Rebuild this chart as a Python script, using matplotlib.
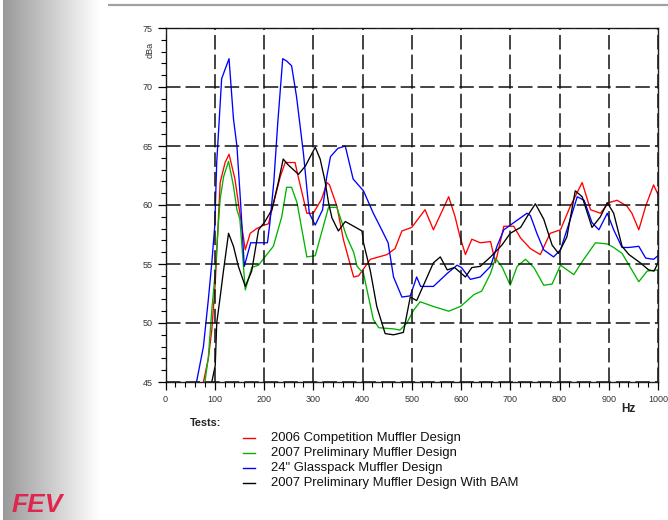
import numpy as np
import matplotlib
matplotlib.use("Agg")
import matplotlib.pyplot as plt
from matplotlib.ticker import MultipleLocator

# ---- data (Hz, dBA) ----
competition_hz = [77, 87, 94, 101, 107, 111, 121, 129, 141, 151, 162, 172, 185, 200, 209, 216, 233, 243, 263,
                  270, 287, 300, 317, 328, 333, 348, 361, 382, 392, 416, 450, 456, 466, 480, 500, 527, 544, 575,
                  588, 598, 609, 622, 639, 660, 670, 687, 707, 721, 741, 761, 781, 802, 822, 846, 863, 883,
                  900, 917, 937, 947, 961, 975, 991, 1000]
competition_db = [45, 47, 49.4, 53.4, 58.5, 61.9, 63.6, 64.3, 62.2, 59.3, 56.2, 57.6, 58.0, 58.3, 58.4, 59.6,
                  62.4, 63.6, 63.6, 62.3, 59.3, 59.3, 60.5, 61.9, 61.7, 59.9, 57.1, 53.9, 54.0, 55.4, 55.8,
                  56.0, 56.3, 57.8, 58.1, 59.6, 57.9, 60.7, 59.0, 57.3, 55.8, 57.1, 56.8, 56.9, 55.1, 58.2,
                  58.2, 57.2, 56.3, 55.8, 57.6, 57.9, 59.9, 61.9, 59.6, 59.3, 60.2, 60.4, 59.9, 59.3, 57.9,
                  59.9, 61.7, 60.9]

prelim_hz = [80, 87, 94, 101, 107, 111, 118, 128, 138, 145, 151, 162, 175, 189, 200, 219, 236, 246, 256, 267,
             287, 304, 331, 348, 368, 382, 389, 402, 422, 433, 463, 476, 490, 504, 517, 544, 575, 599, 626,
             642, 660, 670, 684, 700, 714, 731, 748, 768, 785, 802, 829, 846, 873, 897, 910, 927, 961, 978, 1000]
prelim_db = [45, 47.1, 51.1, 54.3, 58.2, 60.5, 62.4, 63.7, 61.6, 59.6, 58.8, 52.8, 54.7, 54.9, 55.5, 56.5,
             59.0, 61.5, 61.5, 60.2, 55.6, 55.7, 59.8, 59.8, 57.3, 56.0, 54.8, 54.2, 50.3, 49.6, 49.5, 49.4,
             50.0, 51.1, 51.8, 51.4, 51.0, 51.4, 52.4, 52.7, 54.2, 55.5, 54.7, 53.2, 54.8, 55.4, 54.7, 53.2,
             53.3, 54.9, 54.1, 55.2, 56.8, 56.7, 56.4, 55.9, 53.5, 54.4, 54.5]

glasspack_hz = [63, 77, 87, 94, 100, 104, 114, 121, 129, 138, 145, 152, 160, 173, 187, 207, 212, 220, 228, 238,
                246, 256, 266, 280, 292, 304, 319, 327, 335, 350, 365, 381, 402, 422, 439, 452, 463, 480, 497,
                510, 518, 544, 572, 592, 601, 619, 639, 660, 673, 687, 707, 734, 741, 754, 768, 788, 802,
                822, 836, 850, 866, 880, 897, 910, 927, 941, 961, 975, 991, 1000]
glasspack_db = [45, 48, 52, 55.1, 58.2, 63.6, 70.7, 71.5, 72.4, 67.3, 65.0, 60.5, 54.8, 56.8, 56.8, 56.8, 58.5,
                62.0, 67.0, 72.4, 72.2, 71.8, 69.2, 64.4, 59.3, 58.3, 59.6, 62.3, 64.1, 64.8, 65.0, 62.2,
                61.2, 59.3, 57.9, 56.8, 53.9, 52.2, 52.3, 53.9, 53.1, 53.1, 54.2, 54.9, 54.7, 53.7, 53.9,
                54.8, 56.5, 57.9, 58.5, 59.3, 59.1, 57.6, 56.2, 55.6, 56.2, 58.8, 60.7, 60.4, 58.5, 57.9,
                59.3, 57.9, 56.4, 56.4, 56.5, 55.5, 55.4, 55.7]

bam_hz = [94, 101, 104, 111, 117, 128, 138, 148, 162, 175, 189, 202, 216, 229, 239, 249, 270, 284, 304, 314,
          324, 331, 338, 351, 365, 382, 399, 402, 416, 429, 446, 463, 483, 497, 510, 544, 558, 572, 587, 609,
          622, 639, 660, 683, 700, 721, 737, 751, 768, 785, 798, 815, 832, 846, 866, 883, 897, 910, 927,
          941, 964, 981, 992, 1000]
bam_db = [45, 46.4, 50.0, 52.2, 54.2, 57.6, 56.5, 54.8, 53.1, 54.4, 57.9, 58.6, 59.6, 61.9, 63.9, 63.4, 62.6,
          63.3, 64.9, 63.9, 62.0, 60.2, 58.9, 57.8, 58.6, 58.2, 57.8, 56.8, 54.4, 51.4, 49.1, 49.0, 49.2,
          52.2, 51.9, 55.1, 55.6, 54.5, 54.7, 53.9, 54.7, 54.8, 55.6, 56.6, 57.6, 58.1, 59.2, 60.1, 58.8,
          56.6, 55.9, 57.3, 61.2, 60.7, 58.1, 59.0, 60.2, 59.3, 56.5, 55.8, 55.1, 54.5, 54.4, 55.1]

series_labels = ["2006 Competition Muffler Design", "2007 Preliminary Muffler Design",
                 '24" Glasspack Muffler Design', "2007 Preliminary Muffler Design With BAM"]
series_colors = ["#ff0000", "#00b400", "#0000ff", "#000000"]

plt.rcParams['font.family'] = ['Liberation Sans', 'DejaVu Sans']

W, H = 668, 520
fig = plt.figure(figsize=(W / 100, H / 100), dpi=100)

# background: grey gradient at left, thin rule on top, logo
bg = fig.add_axes([0, 0, 1, 1], zorder=-1)
bg.set_xlim(0, W)
bg.set_ylim(H, 0)
bg.axis('off')
grad = np.linspace(0.6, 1.0, 256).reshape(1, -1)
bg.imshow(np.dstack([grad, grad, grad]), extent=(3, 100, H, 0), aspect='auto')
bg.plot([108, W], [5, 5], color='#a0a0a0', lw=1.6, solid_capstyle='butt')
bg.text(12, 512, "FEV", fontsize=19, fontweight='bold', fontstyle='italic',
        color='#e0264f', ha='left', va='baseline')

# main chart
ax = fig.add_axes([165.5 / W, 1 - 382 / H, (658 - 165.5) / W, (382 - 28) / H])
all_series = [(competition_hz, competition_db), (prelim_hz, prelim_db),
              (glasspack_hz, glasspack_db), (bam_hz, bam_db)]
for (hz, db), c in zip(all_series, series_colors):
    ax.plot(hz, db, color=c, lw=0.95, zorder=2)

ax.set_xlim(0, 1000)
ax.set_ylim(45, 75)
ax.xaxis.set_major_locator(MultipleLocator(100))
ax.xaxis.set_minor_locator(MultipleLocator(20))
ax.yaxis.set_major_locator(MultipleLocator(5))
ax.yaxis.set_minor_locator(MultipleLocator(1))
ax.tick_params(which='major', direction='out', length=6, width=0.9, labelsize=6.5,
               labelcolor='#333333', pad=3)
ax.tick_params(which='minor', direction='out', length=3.5, width=0.8)
ax.set_axisbelow(False)
ax.grid(True, which='major', color='#111111', lw=1.1, linestyle=(0, (9.5, 3.3)))
for s in ax.spines.values():
    s.set_linewidth(1.0)
    s.set_color('#222222')

fig.text(150 / W, 1 - 50 / H, "dBa", rotation=90, fontsize=6.5, color='#333333',
         ha='center', va='center')
fig.text(628 / W, 1 - 409 / H, "Hz", fontsize=8.5, fontweight='bold', color='#222222',
         ha='center', va='center')

# legend drawn by hand below the chart
fig.text(190 / W, 1 - 423 / H, "Tests:", fontsize=7.8, fontweight='bold', color='#222222',
         ha='left', va='center')
row_y = [438, 453, 468, 483]
for lab, c, y in zip(series_labels, series_colors, row_y):
    bg.plot([243, 255], [y, y], color=c, lw=1.0)
    bg.text(271, y, lab, fontsize=9.4, color='#111111', ha='left', va='center')

plt.savefig("out.png", dpi=100)
